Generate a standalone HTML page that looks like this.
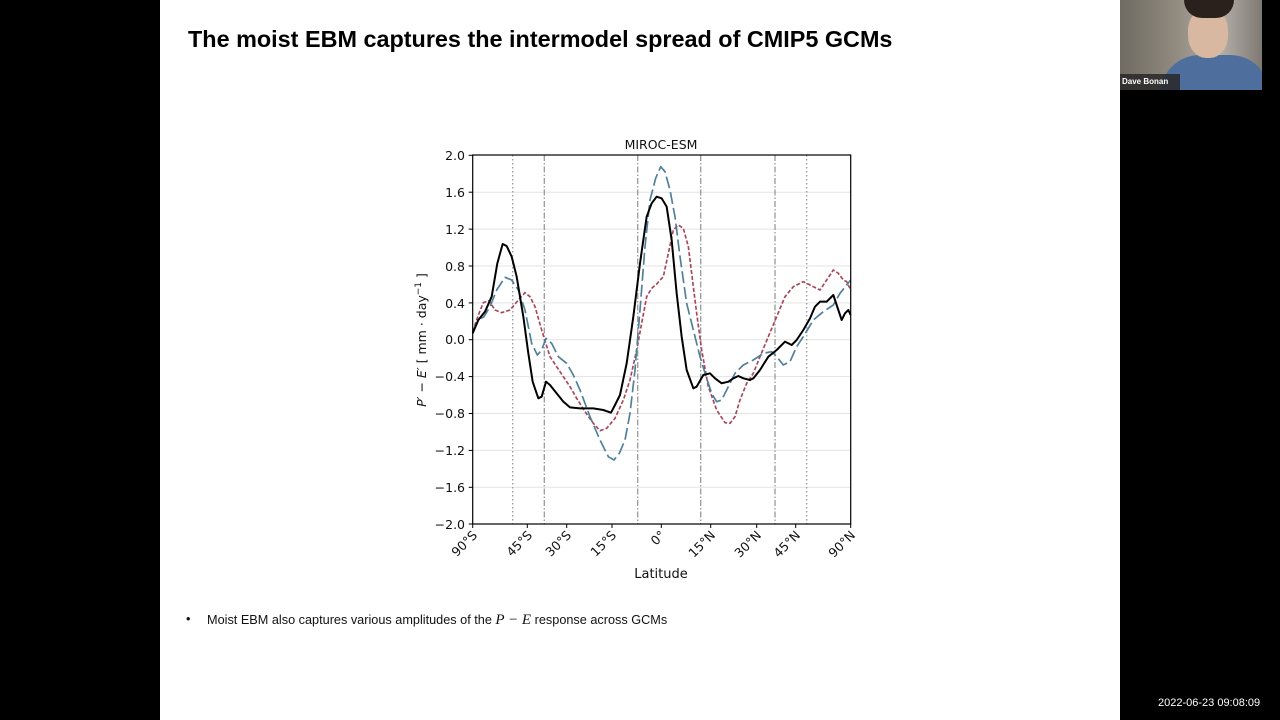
<!DOCTYPE html>
<html><head><meta charset="utf-8"><style>
body{margin:0;width:1280px;height:720px;background:#000;position:relative;overflow:hidden;font-family:"DejaVu Sans","Liberation Sans",sans-serif}
.slide{position:absolute;left:160px;top:0;width:960px;height:720px;background:#fff}
.title{position:absolute;left:188px;top:26px;font:bold 23.4px "Liberation Sans",sans-serif;color:#000}
.bullet{position:absolute;left:207px;top:612px;font:12.7px "Liberation Sans",sans-serif;color:#111}
.dot{position:absolute;left:186px;top:612px;font:12.7px "Liberation Sans",sans-serif;color:#111}
.cam{position:absolute;left:1120px;top:0;width:142px;height:90px;background:linear-gradient(90deg,#6f6a62 0%,#918b80 40%,#b5b1a9 70%,#7e7a73 100%);overflow:hidden}
.ts{position:absolute;left:1158px;top:697px;font:11px "Liberation Sans",sans-serif;color:#fff}
</style></head><body>
<div class="slide"></div>
<div class="title">The moist EBM captures the intermodel spread of CMIP5 GCMs</div>
<div class="cam">
<div style="position:absolute;left:40px;top:55px;width:110px;height:50px;border-radius:40px 40px 0 0;background:#4e6e9e"></div>
<div style="position:absolute;left:68px;top:8px;width:40px;height:50px;border-radius:45%;background:#d9b8a2"></div>
<div style="position:absolute;left:64px;top:0;width:50px;height:18px;border-radius:0 0 20px 20px;background:#2a211c"></div>
<div style="position:absolute;left:0;top:74px;width:60px;height:16px;background:rgba(40,40,40,.85)"></div>
<div style="position:absolute;left:2px;top:77px;font:bold 8px 'Liberation Sans',sans-serif;color:#fff">Dave Bonan</div>
</div>
<div class="ts">2022-06-23 09:08:09</div>
<div class="dot">•</div>
<div class="bullet">Moist EBM also captures various amplitudes of the <i style="font-family:'Liberation Serif',serif;font-size:15px">P − E</i> response across GCMs</div>
<svg width="1280" height="720" style="position:absolute;left:0;top:0" font-family="DejaVu Sans, Liberation Sans, sans-serif">
<g stroke="#e3e3e3" stroke-width="1">
<line x1="472.7" x2="850.7" y1="192.2" y2="192.2"/><line x1="472.7" x2="850.7" y1="229.1" y2="229.1"/><line x1="472.7" x2="850.7" y1="266" y2="266"/><line x1="472.7" x2="850.7" y1="302.9" y2="302.9"/><line x1="472.7" x2="850.7" y1="339.7" y2="339.7"/><line x1="472.7" x2="850.7" y1="376.6" y2="376.6"/><line x1="472.7" x2="850.7" y1="413.5" y2="413.5"/><line x1="472.7" x2="850.7" y1="450.4" y2="450.4"/><line x1="472.7" x2="850.7" y1="487.3" y2="487.3"/>
</g>
<g stroke="#999" stroke-width="1.3">
<line x1="512.7" x2="512.7" y1="155" y2="524" stroke-dasharray="1.5,2.5"/>
<line x1="806.7" x2="806.7" y1="155" y2="524" stroke-dasharray="1.5,2.5"/>
<line x1="544.3" x2="544.3" y1="155" y2="524" stroke-dasharray="6,2,1.5,2"/>
<line x1="637.7" x2="637.7" y1="155" y2="524" stroke-dasharray="6,2,1.5,2"/>
<line x1="700.7" x2="700.7" y1="155" y2="524" stroke-dasharray="6,2,1.5,2"/>
<line x1="775" x2="775" y1="155" y2="524" stroke-dasharray="6,2,1.5,2"/>
</g>
<g transform="translate(410,130) scale(0.33333)" fill="none" stroke-linejoin="round">
<polyline stroke="#a8475a" stroke-width="5" stroke-dasharray="12,6" points="188,605 205,555 220,518 237,512 255,540 275,548 300,540 325,510 345,488 360,500 375,530 395,600 420,680 440,710 460,740 480,770 500,805 525,845 550,880 570,902 590,895 615,865 640,810 660,750 680,660 695,580 710,500 725,475 740,462 760,440 775,370 790,300 805,285 820,295 835,350 845,430 860,550 875,660 895,770 920,840 945,878 960,880 975,860 990,810 1010,760 1030,730 1050,680 1075,620 1100,560 1125,500 1150,470 1180,455 1200,465 1230,480 1250,450 1270,420 1285,430 1300,450 1310,455 1322,480"/>
<polyline stroke="#4f7f9a" stroke-width="5" stroke-dasharray="36,12" points="188,605 205,570 222,560 240,530 260,480 285,442 305,450 325,480 345,540 365,640 382,675 395,660 408,625 425,640 445,680 470,700 490,735 510,780 540,860 570,930 595,980 612,990 628,970 645,930 660,850 675,720 690,540 705,350 720,210 737,145 752,110 765,125 780,180 795,260 810,380 830,520 850,600 870,680 890,745 905,790 920,815 935,810 955,770 975,730 1000,705 1030,690 1060,670 1085,665 1100,680 1120,705 1140,695 1160,650 1180,620 1210,570 1240,545 1270,525 1290,490 1310,465 1322,450"/>
<polyline stroke="#000" stroke-width="6" points="188,610 205,570 225,545 245,500 262,400 278,342 290,348 305,380 320,440 340,560 355,670 368,755 385,805 395,800 408,755 420,765 440,790 460,815 480,832 510,835 550,835 580,840 603,848 615,825 630,795 650,700 670,560 690,400 710,260 725,220 740,200 755,205 770,230 785,330 800,490 815,620 830,720 850,775 860,770 880,735 900,730 915,745 935,760 955,755 970,745 985,738 1000,745 1020,750 1030,745 1050,720 1075,680 1100,660 1125,635 1145,645 1160,630 1180,600 1200,565 1215,530 1230,515 1250,515 1270,495 1280,525 1295,570 1305,550 1315,540 1322,555"/>
</g>
<rect x="472.7" y="155" width="378" height="369" fill="none" stroke="#000" stroke-width="1.2"/>
<g stroke="#000" stroke-width="1">
<line x1="468.7" x2="472.7" y1="155.3" y2="155.3"/><line x1="468.7" x2="472.7" y1="192.2" y2="192.2"/><line x1="468.7" x2="472.7" y1="229.1" y2="229.1"/><line x1="468.7" x2="472.7" y1="266" y2="266"/><line x1="468.7" x2="472.7" y1="302.9" y2="302.9"/><line x1="468.7" x2="472.7" y1="339.7" y2="339.7"/><line x1="468.7" x2="472.7" y1="376.6" y2="376.6"/><line x1="468.7" x2="472.7" y1="413.5" y2="413.5"/><line x1="468.7" x2="472.7" y1="450.4" y2="450.4"/><line x1="468.7" x2="472.7" y1="487.3" y2="487.3"/><line x1="468.7" x2="472.7" y1="524" y2="524"/>
<line x1="472.7" x2="472.7" y1="524" y2="528"/><line x1="527.3" x2="527.3" y1="524" y2="528"/><line x1="566.7" x2="566.7" y1="524" y2="528"/><line x1="612" x2="612" y1="524" y2="528"/><line x1="661.3" x2="661.3" y1="524" y2="528"/><line x1="710.7" x2="710.7" y1="524" y2="528"/><line x1="756.7" x2="756.7" y1="524" y2="528"/><line x1="795.7" x2="795.7" y1="524" y2="528"/><line x1="850.7" x2="850.7" y1="524" y2="528"/>
</g>
<g font-size="12.5" fill="#111" text-anchor="end">
<text x="465" y="160">2.0</text><text x="465" y="197">1.6</text><text x="465" y="234">1.2</text><text x="465" y="271">0.8</text><text x="465" y="308">0.4</text><text x="465" y="344">0.0</text><text x="465" y="381">−0.4</text><text x="465" y="418">−0.8</text><text x="465" y="455">−1.2</text><text x="465" y="492">−1.6</text><text x="465" y="529">−2.0</text>
</g>
<g font-size="12.5" fill="#111" text-anchor="end">
<text transform="translate(478,536) rotate(-45)">90°S</text>
<text transform="translate(533,536) rotate(-45)">45°S</text>
<text transform="translate(572,536) rotate(-45)">30°S</text>
<text transform="translate(617,536) rotate(-45)">15°S</text>
<text transform="translate(666,536) rotate(-45)">0°</text>
<text transform="translate(716,536) rotate(-45)">15°N</text>
<text transform="translate(762,536) rotate(-45)">30°N</text>
<text transform="translate(801,536) rotate(-45)">45°N</text>
<text transform="translate(856,536) rotate(-45)">90°N</text>
</g>
<text x="661" y="149" font-size="12.5" text-anchor="middle" fill="#111">MIROC-ESM</text>
<text x="661" y="578" font-size="13" text-anchor="middle" fill="#111">Latitude</text>
<text transform="translate(426,340) rotate(-90)" font-size="12.5" text-anchor="middle" fill="#111"><tspan font-style="italic">P′</tspan> − <tspan font-style="italic">E′</tspan> [ mm · day<tspan dy="-5" font-size="9">−1</tspan><tspan dy="5"> ]</tspan></text>
</svg>
</body></html>
